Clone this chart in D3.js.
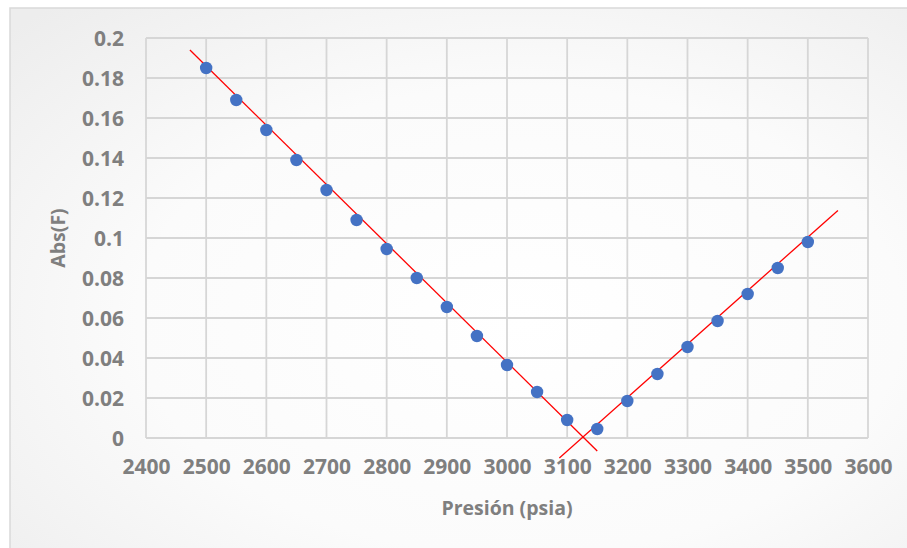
<!DOCTYPE html>
<html>
<head>
<meta charset="utf-8">
<script src="https://cdn.jsdelivr.net/npm/d3@7"></script>
<style>
  html, body { margin: 0; padding: 0; background: #ffffff; }
  svg { display: block; }
  text { font-family: "Open Sans", "DejaVu Sans", sans-serif; font-weight: 700; fill: #7f7f7f; }
</style>
</head>
<body>
<svg id="chart" width="907" height="548"></svg>
<script>
// Pressure (psia) and absolute value of F
const pressure = [2500, 2550, 2600, 2650, 2700, 2750, 2800, 2850, 2900, 2950, 3000,
                  3050, 3100, 3150, 3200, 3250, 3300, 3350, 3400, 3450, 3500];
const absF = [0.185, 0.169, 0.154, 0.139, 0.124, 0.109, 0.0945, 0.080, 0.0655, 0.051, 0.0365,
              0.023, 0.009, 0.0045, 0.0185, 0.032, 0.0455, 0.0585, 0.072, 0.085, 0.098];

// Straight fits drawn over the two branches
const fitDecreasing = [{x: 2473, y: 0.194}, {x: 3150, y: -0.0065}];
const fitIncreasing = [{x: 3087, y: -0.010}, {x: 3550, y: 0.1138}];

const xTicks = [2400, 2500, 2600, 2700, 2800, 2900, 3000, 3100, 3200, 3300, 3400, 3500, 3600];
const yTicks = [0, 0.02, 0.04, 0.06, 0.08, 0.1, 0.12, 0.14, 0.16, 0.18, 0.2];

const svg = d3.select("#chart");
const W = 907, H = 548;
const plot = {left: 146, right: 868, top: 38, bottom: 438};

// Chart background: soft radial shading and a light frame
const defs = svg.append("defs");
const grad = defs.append("radialGradient").attr("id", "bg")
  .attr("cx", "55%").attr("cy", "55%").attr("r", "75%");
grad.append("stop").attr("offset", "0%").attr("stop-color", "#ffffff");
grad.append("stop").attr("offset", "55%").attr("stop-color", "#fbfbfb");
grad.append("stop").attr("offset", "100%").attr("stop-color", "#ededed");
svg.append("rect").attr("x", 0).attr("y", 0).attr("width", W).attr("height", H).attr("fill", "#ffffff");
svg.append("rect").attr("x", 10).attr("y", 8).attr("width", W + 20).attr("height", H + 20)
  .attr("fill", "url(#bg)").attr("stroke", "#d9d9d9").attr("stroke-width", 1.5);

const x = d3.scaleLinear().domain([2400, 3600]).range([plot.left, plot.right]);
const y = d3.scaleLinear().domain([0, 0.2]).range([plot.bottom, plot.top]);

// Gridlines
const grid = svg.append("g");
grid.selectAll("line.v").data(xTicks).join("line")
  .attr("x1", d => x(d)).attr("x2", d => x(d))
  .attr("y1", plot.top).attr("y2", plot.bottom)
  .attr("stroke", "#d6d6d6").attr("stroke-width", 1.8);
grid.selectAll("line.h").data(yTicks).join("line")
  .attr("x1", plot.left).attr("x2", plot.right)
  .attr("y1", d => y(d)).attr("y2", d => y(d))
  .attr("stroke", "#d6d6d6").attr("stroke-width", 1.8);

// Axes (labels only)
const xAxis = svg.append("g").attr("transform", `translate(0,${plot.bottom})`)
  .call(d3.axisBottom(x).tickValues(xTicks).tickFormat(d3.format("d")).tickSize(0).tickPadding(21));
const yAxis = svg.append("g").attr("transform", `translate(${plot.left},0)`)
  .call(d3.axisLeft(y).tickValues(yTicks).tickFormat(d => String(+d.toFixed(2))).tickSize(0).tickPadding(22));
[xAxis, yAxis].forEach(a => {
  a.select(".domain").remove();
  a.selectAll("text").attr("font-size", 21).attr("fill", "#7a7a7a")
    .attr("font-family", "'Open Sans', sans-serif").attr("font-weight", 800);
});
yAxis.selectAll("text").attr("dy", "0.36em");

// Trend lines
const line = d3.line().x(d => x(d.x)).y(d => y(d.y));
svg.append("g").selectAll("path").data([fitDecreasing, fitIncreasing]).join("path")
  .attr("d", line).attr("fill", "none").attr("stroke", "#ff0000").attr("stroke-width", 1.3);

// Data points
svg.append("g").selectAll("circle").data(pressure.map((p, i) => ({p, v: absF[i]}))).join("circle")
  .attr("cx", d => x(d.p)).attr("cy", d => y(d.v)).attr("r", 6.2)
  .attr("fill", "#4472c4");

// Axis titles
svg.append("text").attr("x", (plot.left + plot.right) / 2).attr("y", 515)
  .attr("text-anchor", "middle").attr("font-size", 19.5).attr("font-weight", 800)
  .attr("fill", "#7a7a7a").text("Presión (psia)");
svg.append("text").attr("transform", `translate(65,${(plot.top + plot.bottom) / 2}) rotate(-90)`)
  .attr("text-anchor", "middle").attr("font-size", 19.5).attr("font-weight", 800)
  .attr("fill", "#7a7a7a").text("Abs(F)");
</script>
</body>
</html>
